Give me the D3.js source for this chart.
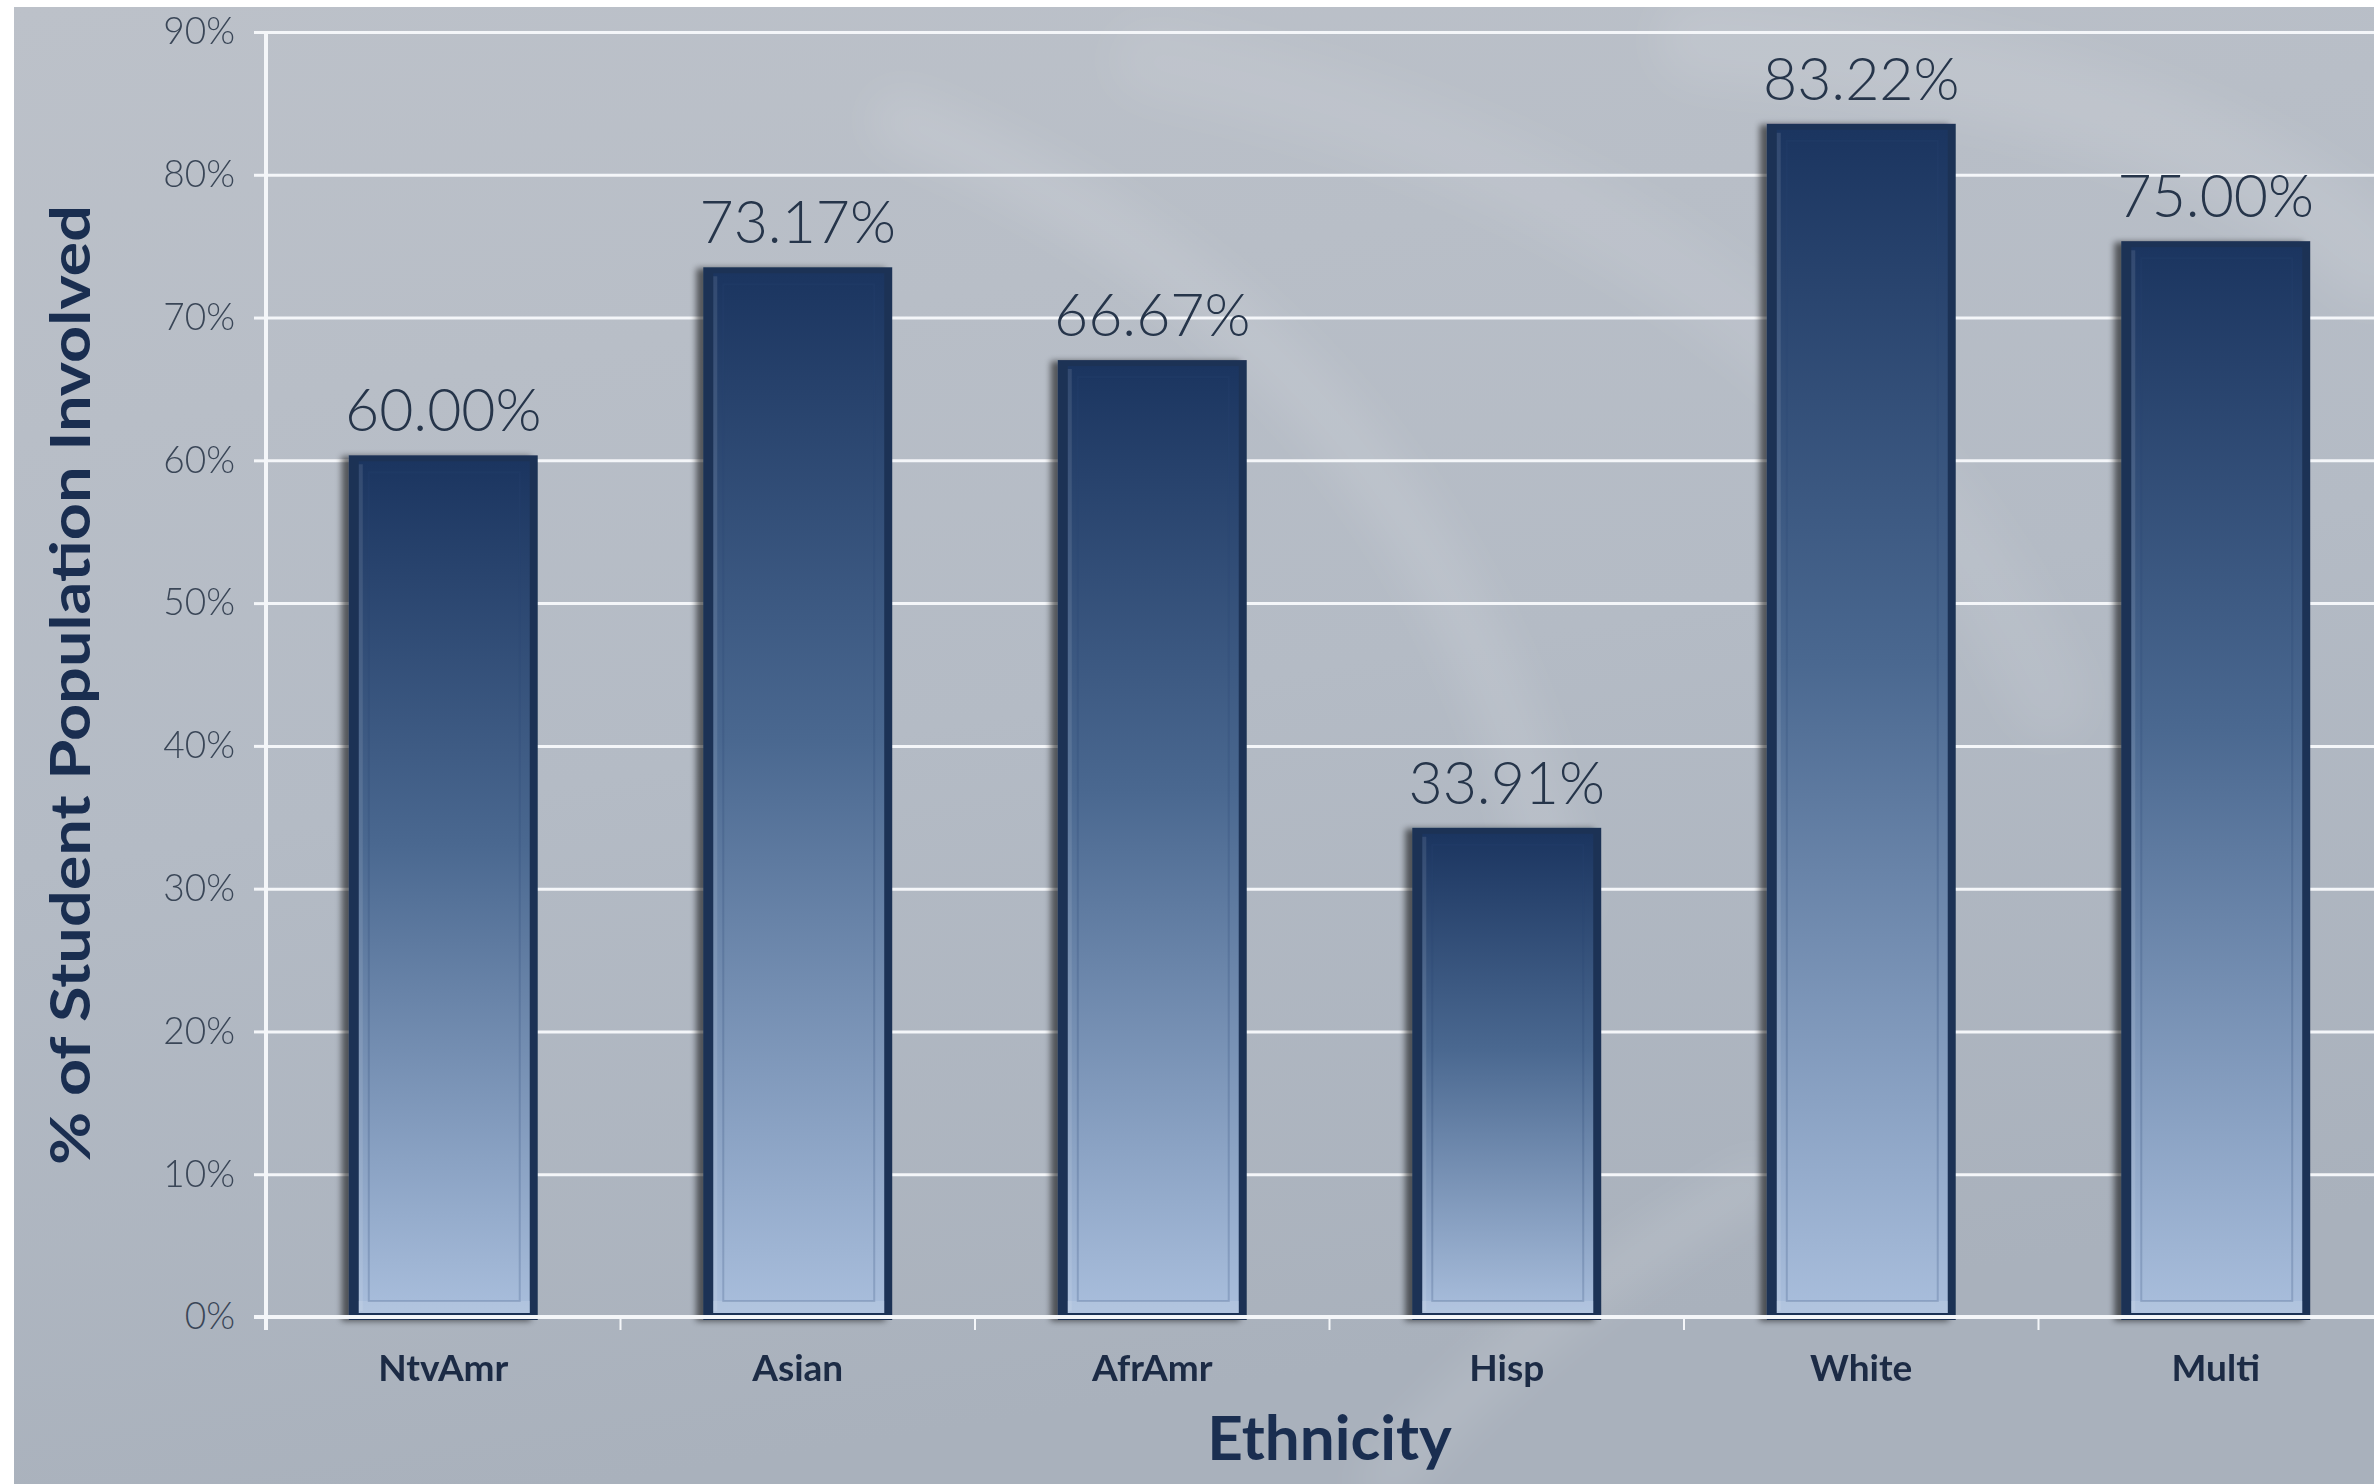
<!DOCTYPE html>
<html>
<head>
<meta charset="utf-8">
<script src="https://cdn.jsdelivr.net/npm/d3@7"></script>
<style>
  html, body { margin: 0; padding: 0; background: #ffffff; }
  svg { display: block; }
</style>
</head>
<body>
<svg id="chart" width="2374" height="1484"></svg>
<script>
// Student involvement by ethnicity
const categories = ["NtvAmr", "Asian", "AfrAmr", "Hisp", "White", "Multi"];
const values = [60.00, 73.17, 66.67, 33.91, 83.22, 75.00];
const valueLabels = ["60.00%", "73.17%", "66.67%", "33.91%", "83.22%", "75.00%"];
const yTicks = [0, 10, 20, 30, 40, 50, 60, 70, 80, 90];
const yTickLabels = ["0%", "10%", "20%", "30%", "40%", "50%", "60%", "70%", "80%", "90%"];
const xTitle = "Ethnicity";
const yTitle = "% of Student Population Involved";

const W = 2374, H = 1484;
const plot = { left: 266, top: 32, bottom: 1317, step: 354.5 };
plot.right = plot.left + plot.step * categories.length;

const svg = d3.select("#chart");
const defs = svg.append("defs");

// background panel gradient
const bg = defs.append("linearGradient").attr("id", "bgGrad")
  .attr("x1", 0).attr("y1", 0).attr("x2", 0.25).attr("y2", 1);
bg.append("stop").attr("offset", 0).attr("stop-color", "#bcc1c9");
bg.append("stop").attr("offset", 0.55).attr("stop-color", "#b4bbc5");
bg.append("stop").attr("offset", 1).attr("stop-color", "#a9b1bc");

// bar fill gradient (dark navy top to pale blue bottom)
const bg2 = defs.append("linearGradient").attr("id", "barGrad")
  .attr("x1", 0).attr("y1", 0).attr("x2", 0).attr("y2", 1);
bg2.append("stop").attr("offset", 0).attr("stop-color", "#1b3560");
bg2.append("stop").attr("offset", 0.45).attr("stop-color", "#4a6890");
bg2.append("stop").attr("offset", 1).attr("stop-color", "#a9bedc");

const soft = defs.append("filter").attr("id", "soft")
  .attr("x", "-20%").attr("y", "-20%").attr("width", "140%").attr("height", "140%");
soft.append("feGaussianBlur").attr("stdDeviation", 22);

const shadow = defs.append("filter").attr("id", "barShadow")
  .attr("x", "-20%").attr("y", "-5%").attr("width", "140%").attr("height", "110%");
shadow.append("feGaussianBlur").attr("in", "SourceAlpha").attr("stdDeviation", 3).attr("result", "b");
shadow.append("feOffset").attr("in", "b").attr("dx", -7).attr("dy", 1).attr("result", "o");
shadow.append("feComponentTransfer").attr("in", "o").attr("result", "s")
  .append("feFuncA").attr("type", "linear").attr("slope", 0.55);
const merge = shadow.append("feMerge");
merge.append("feMergeNode").attr("in", "s");
merge.append("feMergeNode").attr("in", "SourceGraphic");

// background panel with faint light swooshes
svg.append("rect").attr("x", 0).attr("y", 0).attr("width", W).attr("height", H).attr("fill", "#ffffff");
svg.append("rect").attr("x", 14).attr("y", 7).attr("width", W - 14).attr("height", H - 7)
  .attr("fill", "url(#bgGrad)");
const swoosh = svg.append("g").attr("filter", "url(#soft)").attr("fill", "none")
  .attr("stroke", "#ffffff").attr("stroke-linecap", "round");
swoosh.append("path").attr("d", "M 900 120 C 1250 260, 1480 520, 1560 900")
  .attr("stroke-width", 60).attr("opacity", 0.11);
swoosh.append("path").attr("d", "M 1150 60 C 1600 150, 1900 380, 2050 700")
  .attr("stroke-width", 80).attr("opacity", 0.08);
swoosh.append("path").attr("d", "M 1380 1484 C 1500 1350, 1620 1260, 1760 1180")
  .attr("stroke-width", 40).attr("opacity", 0.13);
swoosh.append("path").attr("d", "M 1700 40 C 2000 60, 2250 140, 2374 260")
  .attr("stroke-width", 90).attr("opacity", 0.1);

// scales
const x = d3.scaleBand().domain(categories)
  .range([plot.left, plot.right])
  .paddingInner(0.467).paddingOuter(0.2335);
const y = d3.scaleLinear().domain([0, 90]).range([plot.bottom, plot.top]);

// gridlines
svg.append("g").attr("class", "grid")
  .attr("transform", `translate(${plot.left},0)`)
  .call(d3.axisLeft(y).tickValues(yTicks.slice(1)).tickSize(-(plot.right - plot.left)).tickFormat(""))
  .call(g => g.select(".domain").remove())
  .call(g => g.selectAll("line").attr("stroke", "#f4f6f9").attr("stroke-width", 3));

// y axis with ticks and labels
const yAxis = svg.append("g")
  .attr("transform", `translate(${plot.left},0)`)
  .call(d3.axisLeft(y).tickValues(yTicks).tickSize(12).tickPadding(19)
    .tickFormat((d, i) => yTickLabels[i]));
yAxis.select(".domain").remove();
yAxis.selectAll("line").attr("stroke", "#f4f6f9").attr("stroke-width", 3);
yAxis.selectAll("text").attr("fill", "#3a4657")
  .attr("font-family", "Lato, 'Open Sans', sans-serif").attr("font-weight", 300)
  .attr("font-size", 37);

// bars
const bars = svg.append("g").selectAll("g.bar")
  .data(categories.map((c, i) => ({ c, v: values[i], label: valueLabels[i] })))
  .join("g").attr("class", "bar");

bars.each(function (d) {
  const g = d3.select(this);
  const bx = x(d.c), bw = x.bandwidth();
  const top = y(d.v), base = y(0);
  g.append("rect").attr("x", bx).attr("y", top - 5)
    .attr("width", bw).attr("height", base + 3 - (top - 5))
    .attr("fill", "#1d3254").attr("filter", "url(#barShadow)");
  g.append("rect").attr("x", bx + 10).attr("y", top + 1)
    .attr("width", bw - 18).attr("height", (base - 4) - (top + 1))
    .attr("fill", "url(#barGrad)");
  // bevel: thin inner outline and pale bottom lip
  g.append("rect").attr("x", bx + 10).attr("y", base - 16)
    .attr("width", bw - 18).attr("height", 12)
    .attr("fill", "#c3d2e6").attr("opacity", 0.35);
  g.append("rect").attr("x", bx + 20).attr("y", top + 12)
    .attr("width", bw - 38).attr("height", (base - 16) - (top + 12))
    .attr("fill", "none").attr("stroke", "#2a4670").attr("stroke-opacity", 0.22).attr("stroke-width", 2);
  g.append("line").attr("x1", bx + 12).attr("x2", bx + 12)
    .attr("y1", top + 4).attr("y2", base - 6)
    .attr("stroke", "#ffffff").attr("stroke-opacity", 0.1).attr("stroke-width", 4);
});

// value labels
bars.append("text")
  .attr("x", d => x(d.c) + x.bandwidth() / 2)
  .attr("y", d => y(d.v) - 29)
  .attr("text-anchor", "middle")
  .attr("fill", "#26354a")
  .attr("font-family", "Lato, 'Open Sans', sans-serif")
  .attr("font-weight", 300)
  .attr("font-size", 59)
  .text(d => d.label);

// x baseline and boundary ticks
const xAxis = svg.append("g").attr("transform", `translate(0,${plot.bottom})`);
xAxis.append("line").attr("x1", plot.left - 12).attr("x2", W)
  .attr("stroke", "#f4f6f9").attr("stroke-width", 4);
const boundaries = categories.map(c => x(c) - x.step() * x.paddingInner() / 2);
xAxis.selectAll("line.tick").data(boundaries).join("line").attr("class", "tick")
  .attr("x1", d => d).attr("x2", d => d).attr("y1", 0).attr("y2", 13)
  .attr("stroke", "#f4f6f9").attr("stroke-width", 2);
// y axis line
svg.append("line").attr("x1", plot.left).attr("x2", plot.left)
  .attr("y1", plot.top).attr("y2", plot.bottom + 13)
  .attr("stroke", "#f4f6f9").attr("stroke-width", 4);

// category labels
svg.append("g").selectAll("text").data(categories).join("text")
  .attr("x", d => x(d) + x.bandwidth() / 2)
  .attr("y", 1381)
  .attr("text-anchor", "middle")
  .attr("fill", "#1c2b45")
  .attr("font-family", "Lato, 'Open Sans', sans-serif")
  .attr("font-weight", 700)
  .attr("font-size", 37)
  .text(d => d);

// axis titles
svg.append("text")
  .attr("x", (plot.left + plot.right) / 2).attr("y", 1460)
  .attr("text-anchor", "middle")
  .attr("fill", "#1a2e50")
  .attr("font-family", "Lato, 'Open Sans', sans-serif")
  .attr("font-weight", 700)
  .attr("font-size", 62)
  .text(xTitle);

svg.append("text")
  .attr("transform", "translate(90,685) rotate(-90)")
  .attr("text-anchor", "middle")
  .attr("fill", "#1a2e50")
  .attr("font-family", "Lato, 'Open Sans', sans-serif")
  .attr("font-weight", 700)
  .attr("font-size", 55)
  .attr("textLength", 960)
  .attr("lengthAdjust", "spacingAndGlyphs")
  .text(yTitle);
</script>
</body>
</html>
